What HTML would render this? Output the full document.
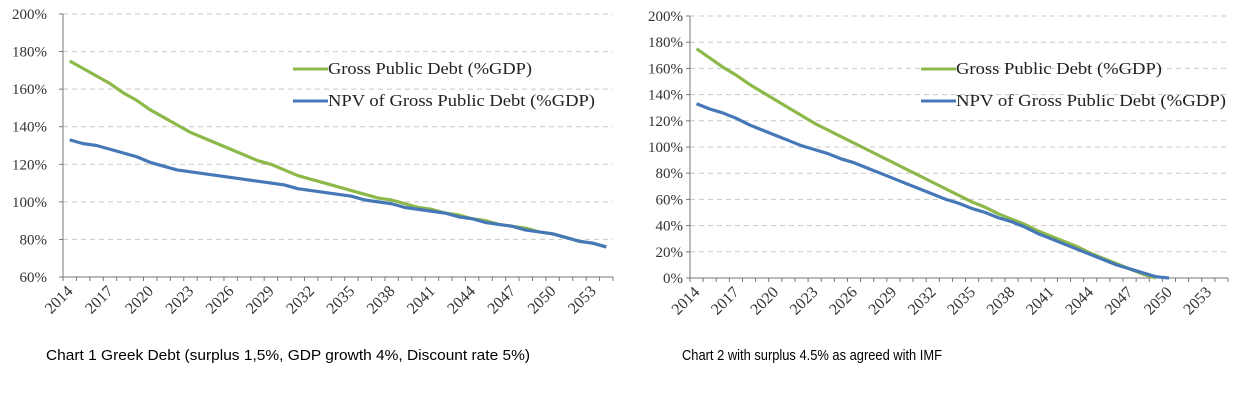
<!DOCTYPE html>
<html><head><meta charset="utf-8"><style>
body{margin:0;background:#fff;width:1260px;height:408px;overflow:hidden;font-family:"Liberation Sans",sans-serif}
svg{position:absolute;left:0;top:0}
</style></head><body>
<svg id="svg" width="1260" height="408">
<text x="46" y="360" font-size="14.5" font-family="Liberation Sans, sans-serif" fill="#000" textLength="484" lengthAdjust="spacingAndGlyphs">Chart 1 Greek Debt (surplus 1,5%, GDP growth 4%, Discount rate 5%)</text>
<text x="682" y="360" font-size="14.5" font-family="Liberation Sans, sans-serif" fill="#000" textLength="260" lengthAdjust="spacingAndGlyphs">Chart 2 with surplus 4.5% as agreed with IMF</text>
</svg>
<script>
const years1 = [];
for (let y = 2014; y <= 2054; y++) years1.push(y);
const tickLabels = ["2014","2017","2020","2023","2026","2029","2032","2035","2038","2041","2044","2047","2050","2053"];
const c1Gross = [175,171,167,163,158,154,149,145,141,137,134,131,128,125,122,120,117,114,112,110,108,106,104,102,101,99,97,96,94,93,91,90,88,87,86,84,83,81,79,78,76];
const c1Npv   = [133,131,130,128,126,124,121,119,117,116,115,114,113,112,111,110,109,107,106,105,104,103,101,100,99,97,96,95,94,92,91,89,88,87,85,84,83,81,79,78,76];
const c2Gross = [175,168,161,155,148,142,136,130,124,118,113,108,103,98,93,88,83,78,73,68,63,58,54,49,45,41,36,32,28,24,19,15,11,7,3,0];
const c2Npv   = [133,129,126,122,117,113,109,105,101,98,95,91,88,84,80,76,72,68,64,60,57,53,50,46,43,39,34,30,26,22,18,14,10,7,4,1,0];
const yTicks1 = [60,80,100,120,140,160,180,200];
const yTicks2 = [0,20,40,60,80,100,120,140,160,180,200];

const svg = document.getElementById('svg');
const NS = 'http://www.w3.org/2000/svg';
function mk(tag, attrs, parent){const e=document.createElementNS(NS,tag);for(const k in attrs)e.setAttribute(k,attrs[k]);(parent||svg).appendChild(e);return e;}

function chart(id, x0, x1, yTop, yBot, yMin, yMax, yTicks, gross, npv, legX, yLabOff, legW){
  const g = mk('g',{});
  
  
  const n = years1.length, step = (x1-x0)/n;
  const xs = i => x0 + step*(i+0.5);
  const ys = v => yBot - (v-yMin)/(yMax-yMin)*(yBot-yTop);
  yTicks.forEach(t=>{
    const y = ys(t);
    if (t!==yMin){const l=mk('line',{x1:x0,x2:x1,y1:y,y2:y,stroke:'#c8c8c8','stroke-dasharray':'5,4','stroke-width':1},g);
      
      }
    mk('line',{x1:x0-4,x2:x0,y1:y,y2:y,stroke:'#777'},g);
    const tx=mk('text',{x:x0-yLabOff,y:y+5,'text-anchor':'end','font-size':15,'font-family':'Liberation Serif, serif',fill:'#333'},g);
    tx.textContent=t+'%';
    
    
  });
  const ax=mk('line',{x1:x0,x2:x0,y1:yTop,y2:yBot,stroke:'#777'},g);
  
  
  const xa=mk('line',{x1:x0,x2:x1,y1:yBot,y2:yBot,stroke:'#777'},g);
  
  
  for(let i=0;i<=n;i++) mk('line',{x1:x0+step*i,x2:x0+step*i,y1:yBot,y2:yBot+4,stroke:'#777'},g);
  tickLabels.forEach(lab=>{
    const i = years1.indexOf(+lab);
    const x = xs(i)+4, y = yBot+15;
    const t=mk('text',{x:x,y:y,'text-anchor':'end','font-size':16,'font-family':'Liberation Serif, serif',fill:'#333',transform:`rotate(-45 ${x} ${y})`},g);
    t.textContent=lab;
    
    
  });
  [[gross,'#8db84a','gross-debt-line'],[npv,'#4678b8','npv-debt-line']].forEach(([arr,col,nm])=>{
    const p=mk('polyline',{points:arr.map((v,i)=>xs(i)+','+ys(v)).join(' '),fill:'none',stroke:col,'stroke-width':3.2,'stroke-linejoin':'round'},g);
    
    
  });
  [['Gross Public Debt (%GDP)','#8db84a',69,legW[0]],['NPV of Gross Public Debt (%GDP)','#4678b8',101,legW[1]]].forEach(([txt,col,y,w])=>{
    const lg=mk('g',{},g);
    
    
    mk('line',{x1:legX,x2:legX+35,y1:y,y2:y,stroke:col,'stroke-width':3},lg);
    const t=mk('text',{x:legX+35,y:y+5,'font-size':16.5,'font-family':'Liberation Serif, serif',fill:'#222',textLength:w,lengthAdjust:'spacingAndGlyphs'},lg);
    t.textContent=txt;
  });
}
chart('chart1-greek-debt',63,613,14,277,60,200,yTicks1,c1Gross,c1Npv,293,16,[204,267]);
chart('chart2-imf-surplus',690,1228,16,278,0,200,yTicks2,c2Gross,c2Npv,921,7,[206,270]);
</script>
</body></html>
